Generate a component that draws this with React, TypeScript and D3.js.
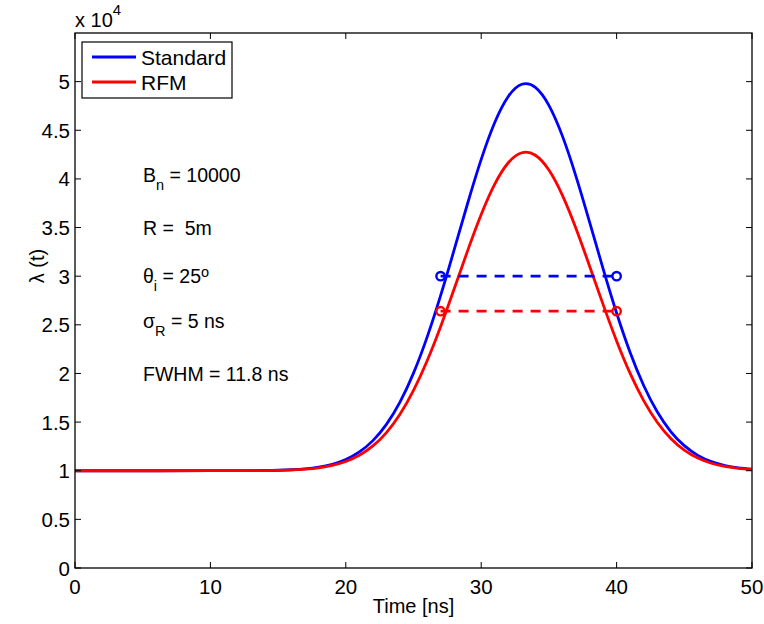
import React from "react";
import * as d3 from "d3";

// ---- Data ----
const timeNs = [0, 5, 10, 12, 14, 15, 16, 17, 18, 19, 20, 21, 22, 23, 24, 25, 26, 27, 28, 29, 30, 31, 32, 33, 34, 35, 36, 37, 38, 39, 40, 41, 42, 43, 44, 45, 46, 47, 48, 49, 50];
const standardValues = [10000, 10000, 10001, 10005, 10023, 10049, 10100, 10196, 10369, 10666, 11157, 11931, 13095, 14768, 17057, 20034, 23707, 27994, 32694, 37498, 42011, 45804, 48479, 49728, 49410, 47563, 44399, 40268, 35587, 30780, 26219, 22159, 18760, 16062, 14032, 12575, 11580, 10932, 10529, 10288, 10150];
const rfmValues = [10000, 10000, 10001, 10004, 10019, 10040, 10082, 10161, 10303, 10548, 10952, 11589, 12547, 13923, 15807, 18256, 21279, 24806, 28674, 32627, 36341, 39462, 41663, 42691, 42429, 40909, 38306, 34906, 31055, 27099, 23346, 20005, 17208, 14988, 13318, 12119, 11300, 10767, 10435, 10237, 10124];
const fwhmTimes = [27, 40];
const standardHalf = 30000;
const rfmHalf = 26400;
const xTicks = [0, 10, 20, 30, 40, 50];
const yTicks = [0, 5000, 10000, 15000, 20000, 25000, 30000, 35000, 40000, 45000, 50000];
const seriesNames = ["Standard", "RFM"];
const seriesColors = ["#0000ff", "#ff0000"];

const W = 764, H = 624;
const L = 75, R = 752, T = 33, B = 568;
const FONT = "'Liberation Sans', Arial, Helvetica, sans-serif";

export default function App() {
  const x = d3.scaleLinear().domain([0, 50]).range([L, R]);
  const y = d3.scaleLinear().domain([0, 55000]).range([B, T]);
  const line = d3.line<number>()
    .x((_, i) => x(timeNs[i]))
    .y((d) => y(d))
    .curve(d3.curveNatural);
  const series = [standardValues, rfmValues];
  const halves = [standardHalf, rfmHalf];
  const tickLen = 6;
  const fmtY = (v: number) => d3.format("~g")(v / 10000);

  return (
    <svg width={W} height={H} style={{ position: "absolute", left: 0, top: 0, background: "#fff" }} fontFamily={FONT}>
      <rect x={0} y={0} width={W} height={H} fill="#fff" />
      {/* data lines */}
      {series.map((s, i) => (
        <path key={"l" + i} d={line(s) || ""} fill="none" stroke={seriesColors[i]} strokeWidth={2.8} />
      ))}
      {/* FWHM markers */}
      {halves.map((h, i) => (
        <g key={"h" + i}>
          <line x1={x(fwhmTimes[0])} x2={x(fwhmTimes[1])} y1={y(h)} y2={y(h)} stroke={seriesColors[i]} strokeWidth={2.8} strokeDasharray="10,8" />
          {fwhmTimes.map((t, j) => (
            <circle key={j} cx={x(t)} cy={y(h)} r={4.2} fill="none" stroke={seriesColors[i]} strokeWidth={2.4} />
          ))}
        </g>
      ))}
      {/* axes box */}
      <rect x={L} y={T} width={R - L} height={B - T} fill="none" stroke="#000" strokeWidth={1.3} />
      {xTicks.map((t) => (
        <g key={"xt" + t}>
          <line x1={x(t)} x2={x(t)} y1={B} y2={B - tickLen} stroke="#000" strokeWidth={1} />
          <line x1={x(t)} x2={x(t)} y1={T} y2={T + tickLen} stroke="#000" strokeWidth={1} />
          <text x={x(t)} y={594} textAnchor="middle" fontSize={20.5}>{t}</text>
        </g>
      ))}
      {yTicks.map((t) => (
        <g key={"yt" + t}>
          <line x1={L} x2={L + tickLen} y1={y(t)} y2={y(t)} stroke="#000" strokeWidth={1} />
          <line x1={R} x2={R - tickLen} y1={y(t)} y2={y(t)} stroke="#000" strokeWidth={1} />
          <text x={70} y={y(t) + 7.5} textAnchor="end" fontSize={20.5}>{fmtY(t)}</text>
        </g>
      ))}
      {/* exponent label */}
      <text x={75} y={27} fontSize={20}>x 10<tspan dy={-12} fontSize={15}>4</tspan></text>
      {/* axis labels */}
      <text x={(L + R) / 2} y={613} textAnchor="middle" fontSize={20}>Time [ns]</text>
      <text transform="translate(44,266) rotate(-90)" textAnchor="middle" fontSize={20}>λ (t)</text>
      {/* annotations */}
      <g fontSize={19.5}>
        <text x={143} y={182}>B<tspan dy={7.5} fontSize={14.5}>n</tspan><tspan dy={-7.5}> = 10000</tspan></text>
        <text x={143} y={235} style={{ whiteSpace: "pre" }}>{"R =  5m"}</text>
        <text x={143} y={283}>θ<tspan dy={8} fontSize={14.5}>i</tspan><tspan dy={-8}> = 25</tspan><tspan dy={-6} fontSize={14.5}>o</tspan></text>
        <text x={143} y={328}>σ<tspan dy={8} fontSize={14.5}>R</tspan><tspan dy={-8}> = 5 ns</tspan></text>
        <text x={143} y={381}>FWHM = 11.8 ns</text>
      </g>
      {/* legend */}
      <rect x={82} y={42} width={150} height={56} fill="#fff" stroke="#000" strokeWidth={1.2} />
      {seriesNames.map((n, i) => (
        <g key={"lg" + i}>
          <line x1={92} x2={136} y1={57 + i * 25} y2={57 + i * 25} stroke={seriesColors[i]} strokeWidth={2.8} />
          <text x={141} y={64.5 + i * 25} fontSize={21}>{n}</text>
        </g>
      ))}
    </svg>
  );
}
